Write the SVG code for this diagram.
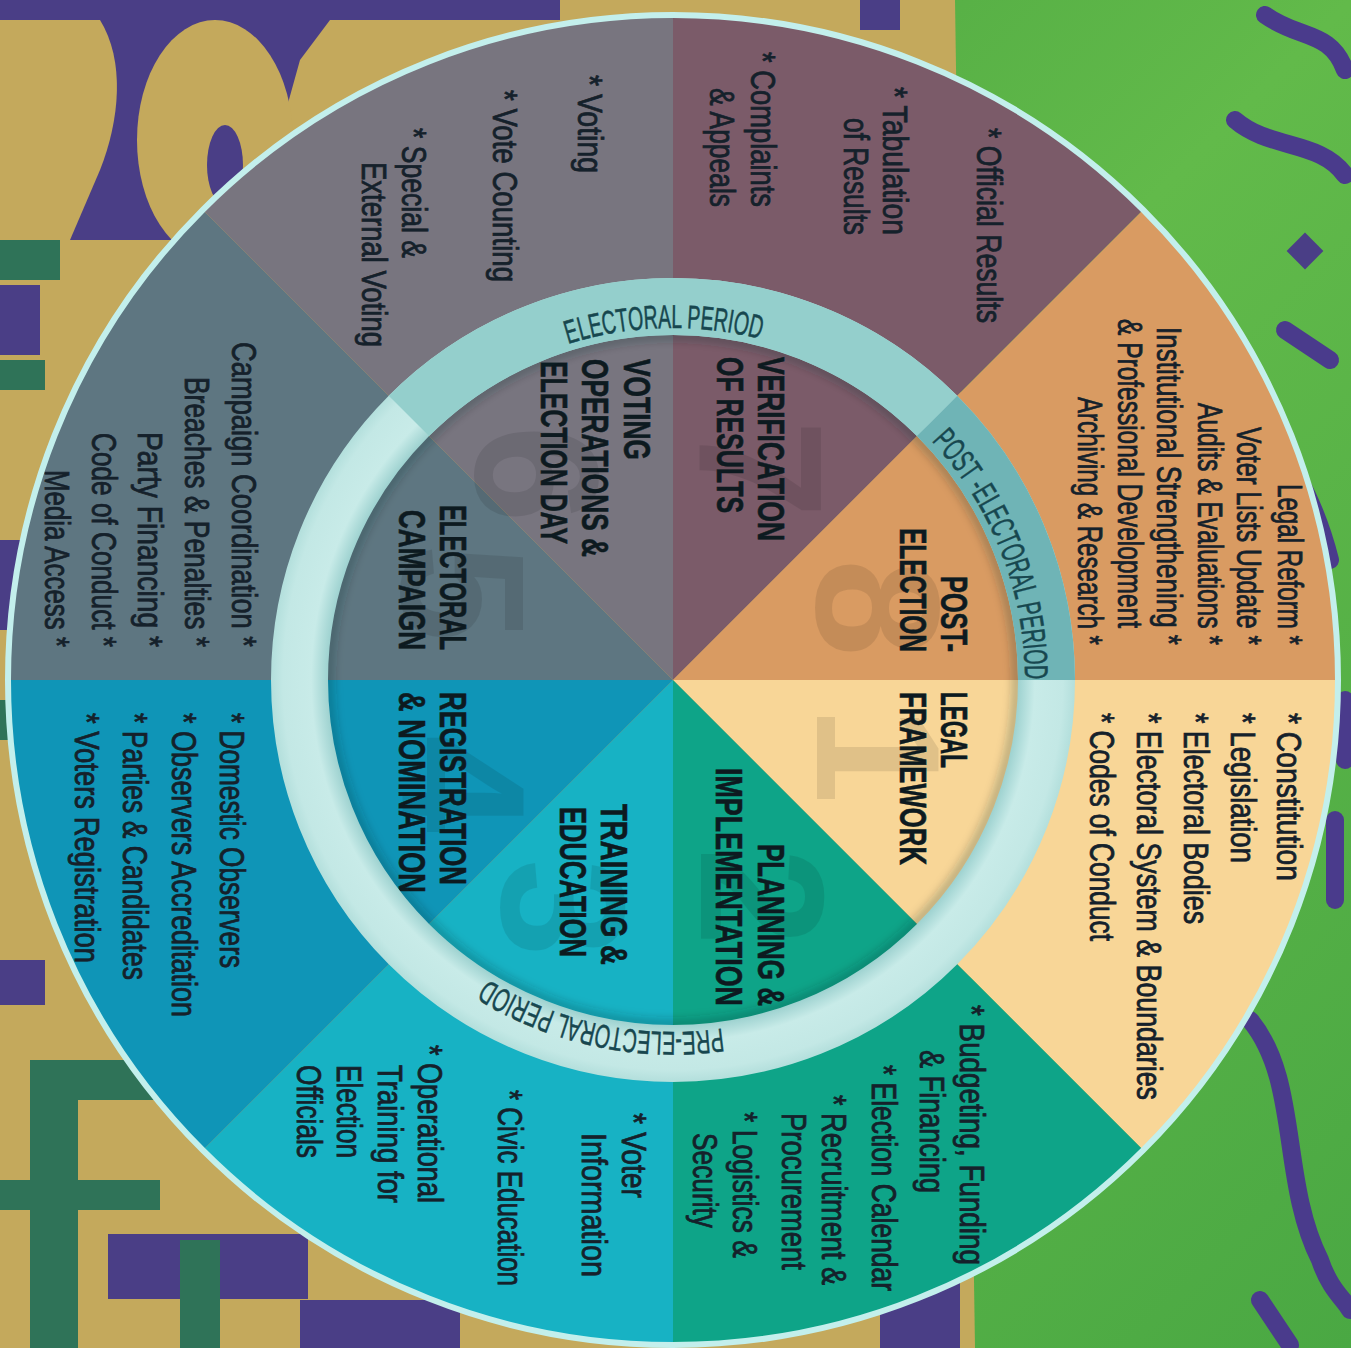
<svg xmlns="http://www.w3.org/2000/svg" xmlns:xlink="http://www.w3.org/1999/xlink" width="1351" height="1348" viewBox="0 0 1351 1348">
<defs>
<style>
.t{font-family:"Liberation Sans",Arial,sans-serif;font-size:35px;fill:#15212b;stroke:#15212b;stroke-width:0.8px}
.h{font-family:"Liberation Sans",Arial,sans-serif;font-size:37px;font-weight:bold;fill:#0d1a20;stroke:#0d1a20;stroke-width:0.6px}
.r{font-family:"Liberation Sans",Arial,sans-serif;font-size:33px;fill:#17474f;stroke:#17474f;stroke-width:0.5px}
.n{font-family:"Liberation Sans",Arial,sans-serif;font-size:176px;font-weight:bold;fill:#000;opacity:0.09}
.pu{fill:#4a3e86}
.ol{fill:#c4a95c}
.dg{fill:#2f7358}
.sq{fill:none;stroke:#4a3b8c;stroke-width:18;stroke-linecap:round}
</style>
<radialGradient id="ringLight" gradientUnits="userSpaceOnUse" cx="673" cy="680" r="402">
<stop offset="0.858" stop-color="#9ed2d0"/>
<stop offset="0.9" stop-color="#c8ebe8"/>
<stop offset="0.97" stop-color="#c3e8e5"/>
<stop offset="1" stop-color="#b3dfdc"/>
</radialGradient>
<linearGradient id="greenBg" x1="0" y1="0" x2="1" y2="1">
<stop offset="0" stop-color="#3f9a3c"/>
<stop offset="0.5" stop-color="#62ba4a"/>
<stop offset="1" stop-color="#4aa843"/>
</linearGradient>
<filter id="blur" x="-10%" y="-10%" width="120%" height="120%"><feGaussianBlur stdDeviation="5"/></filter>
<path id="ringPath" d="M321,680 A352,352 0 1 1 1025,680 A352,352 0 1 1 321,680"/>
</defs>

<g id="background">
<rect width="1351" height="1348" fill="url(#greenBg)"/>
<path class="ol" d="M0,0 H955 L975,1348 H0 Z"/>
<path class="pu" d="M0,0 H560 V20 H330 L300,60 L250,240 L0,240 Z"/>
<path class="ol" d="M0,20 H100 C125,60 120,120 100,170 L70,240 H0 Z"/>
<ellipse class="ol" cx="215" cy="140" rx="78" ry="120"/>
<ellipse class="pu" cx="225" cy="165" rx="18" ry="40"/>
<rect class="dg" x="0" y="240" width="60" height="40"/>
<rect class="pu" x="0" y="285" width="40" height="70"/>
<rect class="dg" x="0" y="360" width="45" height="30"/>
<rect class="pu" x="0" y="540" width="20" height="90"/>
<rect class="dg" x="0" y="700" width="25" height="40"/>
<rect class="pu" x="0" y="960" width="45" height="45"/>
<rect class="dg" x="30" y="1090" width="48" height="258"/>
<rect class="dg" x="30" y="1060" width="150" height="40"/>
<rect class="pu" x="108" y="1234" width="200" height="65"/>
<rect class="dg" x="0" y="1180" width="160" height="30"/>
<rect class="pu" x="300" y="1300" width="160" height="48"/>
<rect class="dg" x="180" y="1240" width="40" height="108"/>
<rect class="pu" x="880" y="1280" width="80" height="68"/>
<rect class="pu" x="860" y="0" width="40" height="30"/>
<path class="sq" d="M1265,15 C1300,40 1330,30 1345,70"/>
<path class="sq" d="M1235,120 C1270,150 1320,140 1345,175"/>
<rect class="pu" x="1292" y="238" width="26" height="26" transform="rotate(45 1305 251)"/>
<path class="sq" d="M1285,330 L1330,360"/>
<path class="sq" d="M1270,440 C1300,470 1320,520 1330,560"/>
<path class="sq" d="M1345,700 V760"/>
<path class="sq" d="M1335,820 V900"/>
<path class="sq" d="M1250,1020 C1300,1080 1280,1180 1320,1260 C1330,1290 1345,1300 1350,1310"/>
<path class="sq" d="M1260,1300 L1290,1345"/>
</g>

<g id="s1-legal-framework">
<path d="M673,680 L1337,680 A664,664 0 0 1 1142.5,1149.5 Z" fill="#f8d697"/>
<g transform="rotate(90)">
<text class="n" x="706" y="-817">1</text>
<text class="h" x="692" y="-941" textLength="76" lengthAdjust="spacingAndGlyphs">LEGAL</text>
<text class="h" x="692" y="-900" textLength="173" lengthAdjust="spacingAndGlyphs">FRAMEWORK</text>
<text class="t" x="713" y="-1277" textLength="168" lengthAdjust="spacingAndGlyphs">* Constitution</text>
<text class="t" x="713" y="-1231" textLength="150" lengthAdjust="spacingAndGlyphs">* Legislation</text>
<text class="t" x="713" y="-1184" textLength="211" lengthAdjust="spacingAndGlyphs">* Electoral Bodies</text>
<text class="t" x="713" y="-1137" textLength="387" lengthAdjust="spacingAndGlyphs">* Electoral System &amp; Boundaries</text>
<text class="t" x="713" y="-1090" textLength="228" lengthAdjust="spacingAndGlyphs">* Codes of Conduct</text>
</g>
</g>

<g id="s2-planning-implementation">
<path d="M673,680 L1142.5,1149.5 A664,664 0 0 1 673,1344 Z" fill="#0ea488"/>
<g transform="rotate(90)">
<text class="n" x="848" y="-701">2</text>
<text class="h" x="844" y="-758" textLength="162" lengthAdjust="spacingAndGlyphs">PLANNING &amp;</text>
<text class="h" x="768" y="-716" textLength="238" lengthAdjust="spacingAndGlyphs">IMPLEMENTATION</text>
<text class="t" x="1005" y="-960" textLength="260" lengthAdjust="spacingAndGlyphs">* Budgeting, Funding</text>
<text class="t" x="1050" y="-920" textLength="143" lengthAdjust="spacingAndGlyphs">&amp; Financing</text>
<text class="t" x="1065" y="-872" textLength="226" lengthAdjust="spacingAndGlyphs">* Election Calendar</text>
<text class="t" x="1095" y="-822" textLength="190" lengthAdjust="spacingAndGlyphs">* Recruitment &amp;</text>
<text class="t" x="1113" y="-782" textLength="157" lengthAdjust="spacingAndGlyphs">Procurement</text>
<text class="t" x="1112" y="-733" textLength="146" lengthAdjust="spacingAndGlyphs">* Logistics &amp;</text>
<text class="t" x="1133" y="-693" textLength="95" lengthAdjust="spacingAndGlyphs">Security</text>
</g>
</g>

<g id="s3-training-education">
<path d="M673,680 L673,1344 A664,664 0 0 1 203.5,1149.5 Z" fill="#17b2c4"/>
<g transform="rotate(90)">
<text class="n" x="859" y="-502">3</text>
<text class="h" x="804" y="-601" textLength="161" lengthAdjust="spacingAndGlyphs">TRAINING &amp;</text>
<text class="h" x="807" y="-560" textLength="150" lengthAdjust="spacingAndGlyphs">EDUCATION</text>
<text class="t" x="1113" y="-622" textLength="85" lengthAdjust="spacingAndGlyphs">* Voter</text>
<text class="t" x="1133" y="-582" textLength="144" lengthAdjust="spacingAndGlyphs">Information</text>
<text class="t" x="1090" y="-498" textLength="196" lengthAdjust="spacingAndGlyphs">* Civic Education</text>
<text class="t" x="1045" y="-418" textLength="158" lengthAdjust="spacingAndGlyphs">* Operational</text>
<text class="t" x="1065" y="-378" textLength="138" lengthAdjust="spacingAndGlyphs">Training for</text>
<text class="t" x="1065" y="-337" textLength="93" lengthAdjust="spacingAndGlyphs">Election</text>
<text class="t" x="1065" y="-297" textLength="93" lengthAdjust="spacingAndGlyphs">Officials</text>
</g>
</g>

<g id="s4-registration-nomination">
<path d="M673,680 L203.5,1149.5 A664,664 0 0 1 9,680 Z" fill="#0f95b7"/>
<g transform="rotate(90)">
<text class="n" x="735" y="-402">4</text>
<text class="h" x="692" y="-440" textLength="193" lengthAdjust="spacingAndGlyphs">REGISTRATION</text>
<text class="h" x="692" y="-399" textLength="201" lengthAdjust="spacingAndGlyphs">&amp; NOMINATION</text>
<text class="t" x="713" y="-220" textLength="255" lengthAdjust="spacingAndGlyphs">* Domestic Observers</text>
<text class="t" x="713" y="-172" textLength="304" lengthAdjust="spacingAndGlyphs">* Observers Accreditation</text>
<text class="t" x="713" y="-123" textLength="267" lengthAdjust="spacingAndGlyphs">* Parties &amp; Candidates</text>
<text class="t" x="713" y="-75" textLength="250" lengthAdjust="spacingAndGlyphs">* Voters Registration</text>
</g>
</g>

<g id="s5-electoral-campaign">
<path d="M673,680 L9,680 A664,664 0 0 1 203.5,210.5 Z" fill="#5e7681"/>
<g transform="rotate(90)">
<text class="n" x="544" y="-402">5</text>
<text class="h" x="505" y="-440" textLength="145" lengthAdjust="spacingAndGlyphs">ELECTORAL</text>
<text class="h" x="510" y="-399" textLength="140" lengthAdjust="spacingAndGlyphs">CAMPAIGN</text>
<text class="t" x="342" y="-232" textLength="305" lengthAdjust="spacingAndGlyphs">Campaign Coordination *</text>
<text class="t" x="377" y="-185" textLength="270" lengthAdjust="spacingAndGlyphs">Breaches &amp; Penalties *</text>
<text class="t" x="432" y="-138" textLength="215" lengthAdjust="spacingAndGlyphs">Party Financing *</text>
<text class="t" x="433" y="-92" textLength="214" lengthAdjust="spacingAndGlyphs">Code of Conduct *</text>
<text class="t" x="470" y="-45" textLength="177" lengthAdjust="spacingAndGlyphs">Media Access *</text>
</g>
</g>

<g id="s6-voting-operations">
<path d="M673,680 L203.5,210.5 A664,664 0 0 1 673,16 Z" fill="#78757f"/>
<g transform="rotate(90)">
<text class="n" x="425" y="-476">6</text>
<text class="h" x="359" y="-624" textLength="101" lengthAdjust="spacingAndGlyphs">VOTING</text>
<text class="h" x="359" y="-582" textLength="198" lengthAdjust="spacingAndGlyphs">OPERATIONS &amp;</text>
<text class="h" x="361" y="-541" textLength="183" lengthAdjust="spacingAndGlyphs">ELECTION DAY</text>
<text class="t" x="75" y="-578" textLength="98" lengthAdjust="spacingAndGlyphs">* Voting</text>
<text class="t" x="90" y="-493" textLength="192" lengthAdjust="spacingAndGlyphs">* Vote Counting</text>
<text class="t" x="128" y="-402" textLength="130" lengthAdjust="spacingAndGlyphs">* Special &amp;</text>
<text class="t" x="162" y="-362" textLength="185" lengthAdjust="spacingAndGlyphs">External Voting</text>
</g>
</g>

<g id="s7-verification-results">
<path d="M673,680 L673,16 A664,664 0 0 1 1142.5,210.5 Z" fill="#7b5b69"/>
<g transform="rotate(90)">
<text class="n" x="420" y="-699">7</text>
<text class="h" x="357" y="-758" textLength="184" lengthAdjust="spacingAndGlyphs">VERIFICATION</text>
<text class="h" x="357" y="-717" textLength="156" lengthAdjust="spacingAndGlyphs">OF RESULTS</text>
<text class="t" x="128" y="-977" textLength="195" lengthAdjust="spacingAndGlyphs">* Official Results</text>
<text class="t" x="87" y="-883" textLength="148" lengthAdjust="spacingAndGlyphs">* Tabulation</text>
<text class="t" x="118" y="-844" textLength="117" lengthAdjust="spacingAndGlyphs">of Results</text>
<text class="t" x="52" y="-751" textLength="155" lengthAdjust="spacingAndGlyphs">* Complaints</text>
<text class="t" x="88" y="-710" textLength="119" lengthAdjust="spacingAndGlyphs">&amp; Appeals</text>
</g>
</g>

<g id="s8-post-election">
<path d="M673,680 L1142.5,210.5 A664,664 0 0 1 1337,680 Z" fill="#d99b62"/>
<g transform="rotate(90)">
<text class="n" x="559" y="-817">8</text>
<text class="h" x="576" y="-941" textLength="76" lengthAdjust="spacingAndGlyphs">POST-</text>
<text class="h" x="528" y="-900" textLength="124" lengthAdjust="spacingAndGlyphs">ELECTION</text>
<text class="t" x="484" y="-1278" textLength="161" lengthAdjust="spacingAndGlyphs">Legal Reform *</text>
<text class="t" x="427" y="-1237" textLength="218" lengthAdjust="spacingAndGlyphs">Voter Lists Update *</text>
<text class="t" x="403" y="-1198" textLength="242" lengthAdjust="spacingAndGlyphs">Audits &amp; Evaluations *</text>
<text class="t" x="327" y="-1157" textLength="318" lengthAdjust="spacingAndGlyphs">Institutional Strengthening *</text>
<text class="t" x="319" y="-1118" textLength="309" lengthAdjust="spacingAndGlyphs">&amp; Professional Development</text>
<text class="t" x="397" y="-1078" textLength="248" lengthAdjust="spacingAndGlyphs">Archiving &amp; Research *</text>
</g>
</g>

<g id="outer-rim">
<circle cx="673" cy="680" r="665" fill="none" stroke="#c3efec" stroke-width="6"/>
</g>

<g id="period-ring">
<circle cx="673" cy="680" r="344" fill="none" stroke="#0a2a30" stroke-opacity="0.3" stroke-width="8" filter="url(#blur)"/>
<circle cx="673" cy="680" r="373.5" fill="none" stroke="url(#ringLight)" stroke-width="57"/>
<path d="M408.9,415.9 A373.5,373.5 0 0 1 937.1,415.9" fill="none" stroke="#94cfcc" stroke-width="57"/>
<path d="M937.1,415.9 A373.5,373.5 0 0 1 1046.5,680" fill="none" stroke="#6fb4b6" stroke-width="57"/>
<text class="r"><textPath xlink:href="#ringPath" href="#ringPath" startOffset="543.7" text-anchor="middle" textLength="195" lengthAdjust="spacingAndGlyphs">ELECTORAL PERIOD</textPath></text>
<text class="r"><textPath xlink:href="#ringPath" href="#ringPath" startOffset="973.8" text-anchor="middle" textLength="262" lengthAdjust="spacingAndGlyphs">POST -ELECTORAL PERIOD</textPath></text>
<text class="r"><textPath xlink:href="#ringPath" href="#ringPath" startOffset="1731" text-anchor="middle" textLength="245" lengthAdjust="spacingAndGlyphs">PRE-ELECTORAL PERIOD</textPath></text>
</g>
</svg>
